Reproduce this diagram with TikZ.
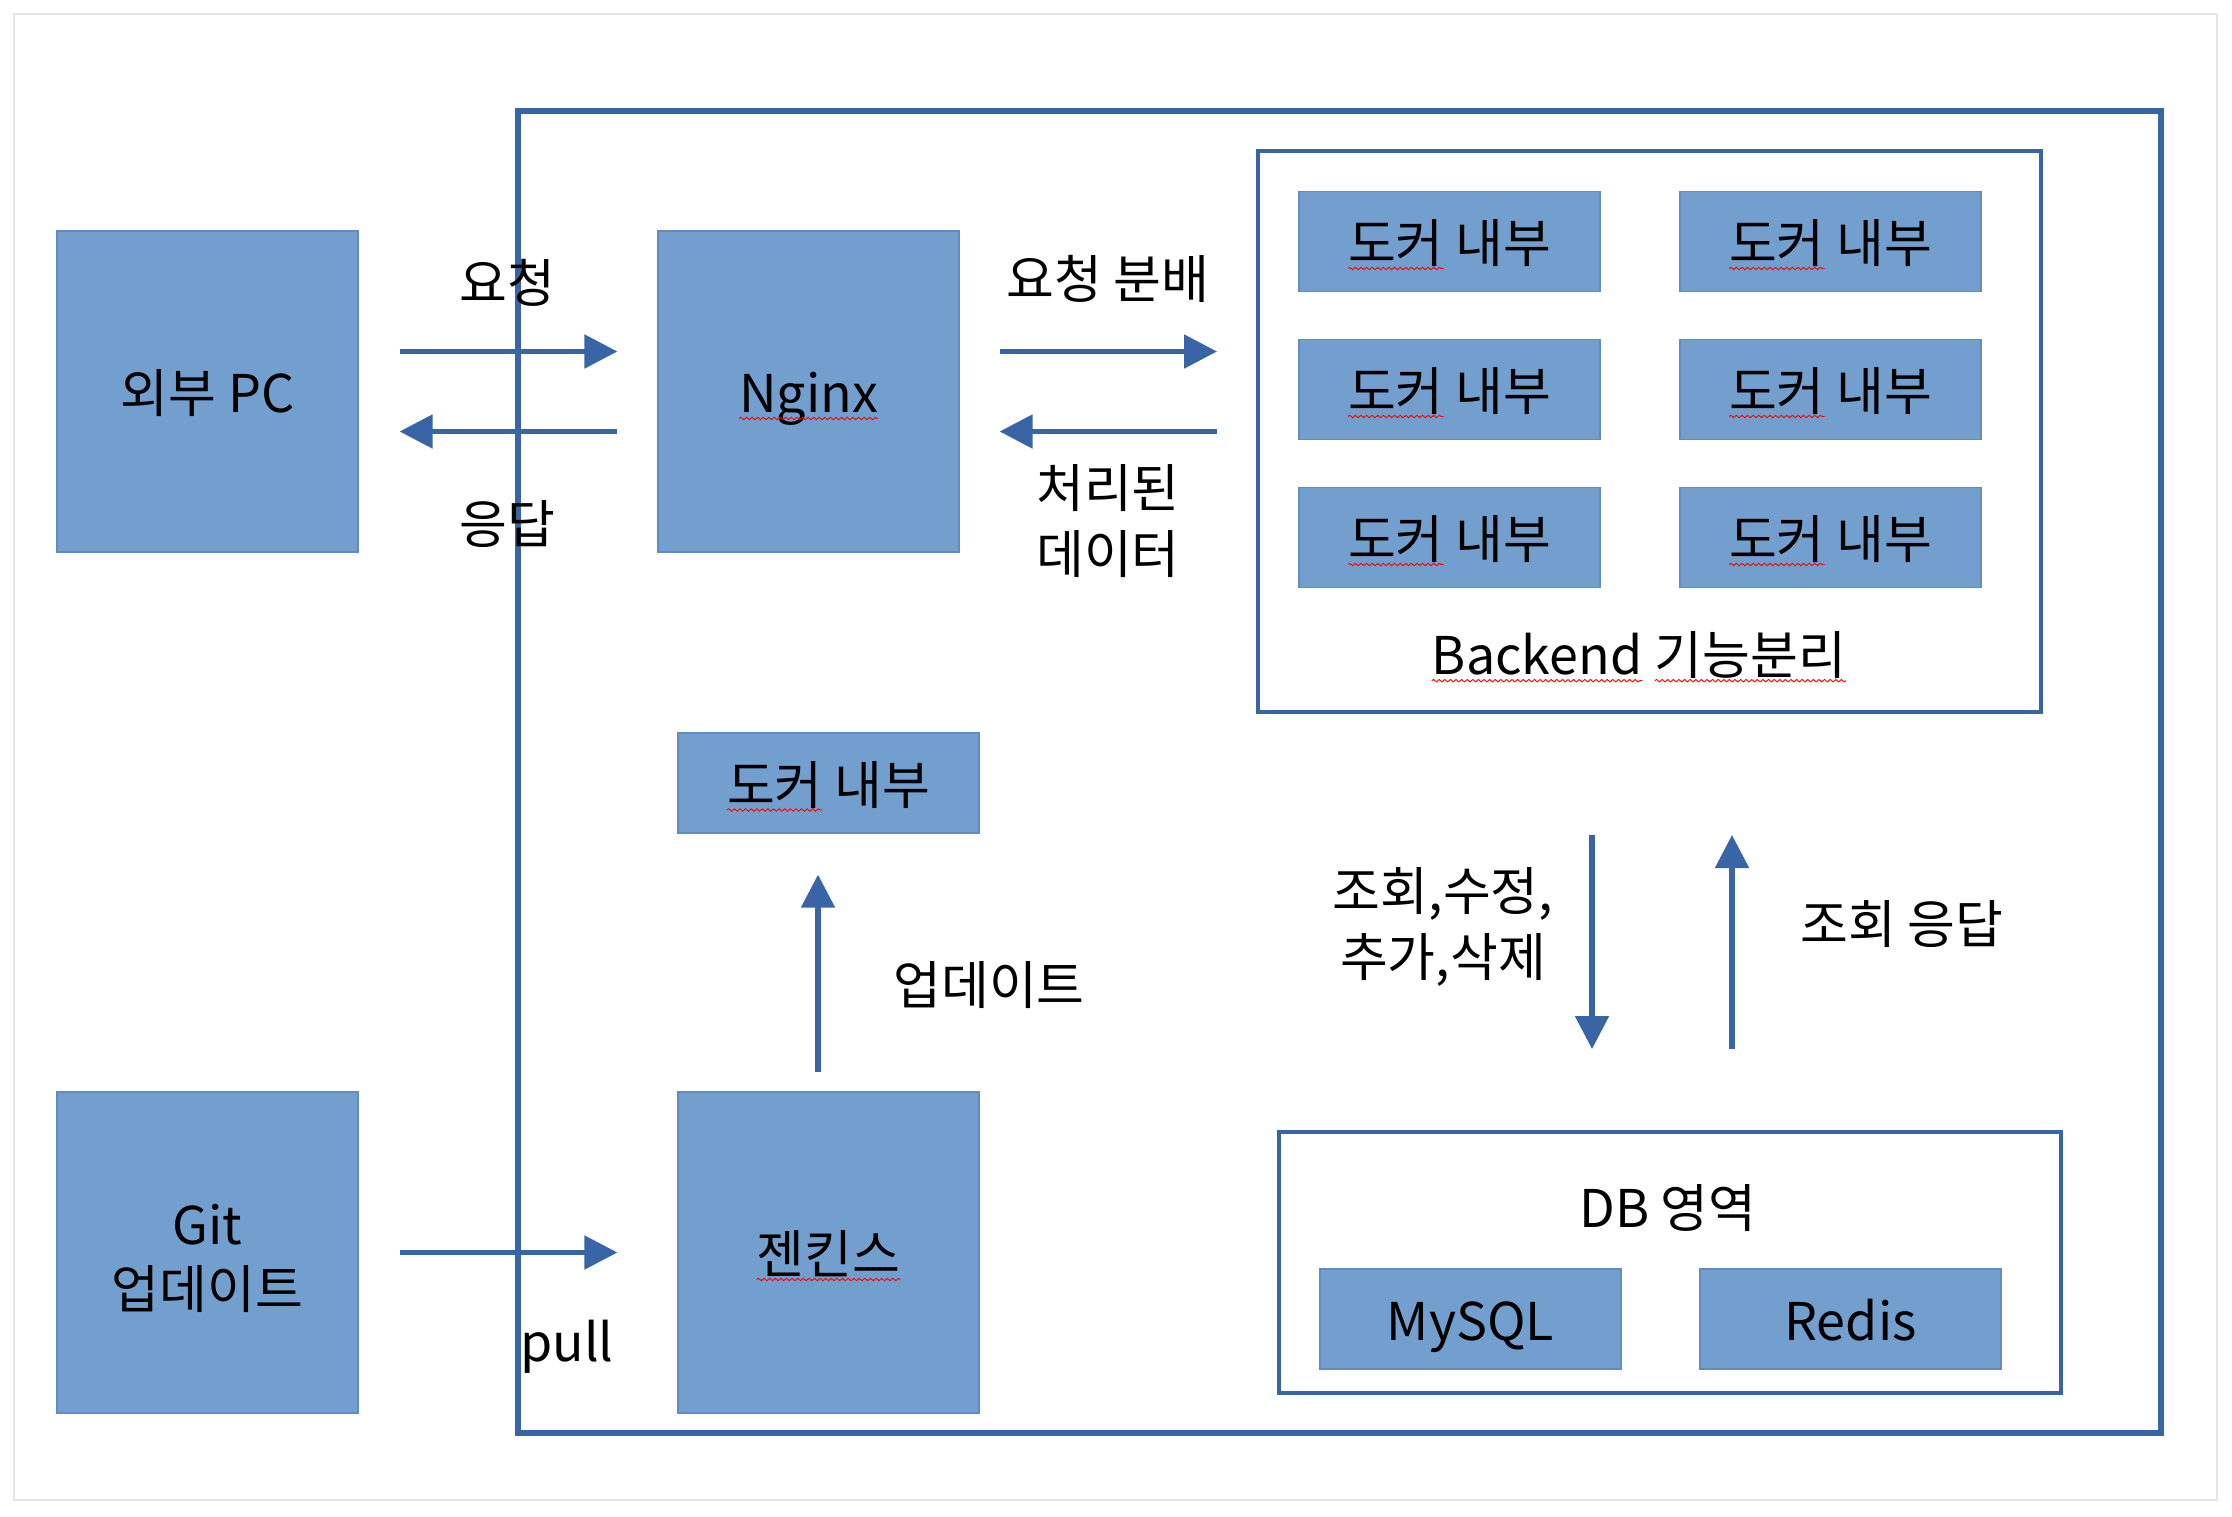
\documentclass[tikz,border=0pt]{standalone}
\usepackage{fontspec}
\setmainfont{Noto Sans CJK KR}
\usetikzlibrary{arrows.meta,decorations.pathmorphing}
\definecolor{boxfill}{RGB}{115,159,207}
\definecolor{boxline}{RGB}{100,138,194}
\definecolor{frameblue}{RGB}{57,101,167}
% wavy red mark under a word
\newcommand{\spell}[1]{\tikz[baseline=(sp.base)]{\node[draw=none,fill=none,minimum width=0pt,minimum height=0pt,inner sep=0pt,outer sep=0pt](sp){#1};\draw[red,line width=0.45pt,decorate,decoration={snake,amplitude=0.6pt,segment length=2.8pt}]([yshift=-3pt]sp.base west)--([yshift=-3pt]sp.base east);}}
\begin{document}
\begin{tikzpicture}[x=0.5pt,y=-0.5pt,
    box/.style={draw=boxline,fill=boxfill,line width=0.6pt,minimum width=150.5pt,minimum height=160.5pt,inner sep=0pt,text height=22.5pt,text depth=1.5pt,font=\fontsize{26}{32}\selectfont},
    dock/.style={box,minimum height=50pt},
    zone/.style={draw=frameblue,line width=2pt,inner sep=0pt},
    flow/.style={draw=frameblue,line width=2.6pt,-{Triangle[length=16.5pt,width=16.5pt]}},
    lbl/.style={font=\fontsize{26}{33}\selectfont,align=center,inner sep=0pt}]
    \useasboundingbox (0,0) rectangle (2232,1516);
    \draw [black!10,line width=1pt](14,14) rectangle (2217,1500);
    % server area
    \node [zone,line width=3pt,minimum width=821.5pt,minimum height=661pt] (server) at (1339.5,772) {};
    \node [zone,minimum width=391.5pt,minimum height=280.5pt] (backend) at (1649.5,431.5) {};
    \node [zone,minimum width=391pt,minimum height=130.5pt] (db) at (1670,1262.5) {};
    % boxes
    \node [box] (pc) at (207.5,391.5) {외부 PC};
    \node [box] (nginx) at (808.5,391.5) {\spell{Nginx}};
    \node [box] (git) at (207.5,1252.5) {};
    \node [lbl,font=\fontsize{26}{32}\selectfont] (gittxt) at ([shift={(0,6)}]git.center) {Git\\업데이트};
    \node [box] (jenkins) at (828.5,1252.5) {\spell{젠킨스}};
    \node [dock] (dockjk) at (828.5,783) {\spell{도커} 내부};
    \foreach \r/\y in {1/241.5,2/389.5,3/537.5}{
        \node [dock] (dockA\r) at (1449.5,\y) {\spell{도커} 내부};
        \node [dock] (dockB\r) at (1830.5,\y) {\spell{도커} 내부};
    }
    \node [dock] (mysql) at (1470.5,1319) {MySQL};
    \node [dock] (redis) at (1850.5,1319) {Redis};
    % connectors
    \draw [flow]([shift={(41,-40)}]pc.east) -- ([shift={(-40,-40)}]nginx.west);
    \draw [flow]([shift={(-40,40)}]nginx.west) -- ([shift={(41,40)}]pc.east);
    \draw [flow]([shift={(40,-40)}]nginx.east) -- ([shift={(-39,-80)}]backend.west);
    \draw [flow]([shift={(-39,0)}]backend.west) -- ([shift={(40,40)}]nginx.east);
    \draw [flow]([shift={(41,0)}]git.east) -- ([shift={(-60,0)}]jenkins.west);
    \draw [flow]([shift={(-10.5,-19)}]jenkins.north) -- ([shift={(-10.5,41)}]dockjk.south);
    \draw [flow]([shift={(-57.5,121)}]backend.south) -- ([shift={(-78,-81)}]db.north);
    \draw [flow]([shift={(62,-81)}]db.north) -- ([shift={(82.5,121)}]backend.south);
    % labels
    \node [lbl] (reqlbl) at (507,283) {요청};
    \node [lbl] (reslbl) at (507,524) {응답};
    \node [lbl] (splitlbl) at (1108,279) {요청 분배};
    \node [lbl] (donelbl) at (1108,521) {처리된\\데이터};
    \node [lbl] (updlbl) at (989,985) {업데이트};
    \node [lbl] (pulllbl) at (567,1347) {pull};
    \node [lbl] (querylbl) at (1443,927) {조회,수정,\\추가,삭제};
    \node [lbl] (anslbl) at (1902,924) {조회 응답};
    \node [lbl] (dblbl) at (1668,1208) {DB 영역};
    \node [lbl] (belbl) at (1639,657) {\spell{Backend} \spell{기능분리}};
\end{tikzpicture}
\end{document}
